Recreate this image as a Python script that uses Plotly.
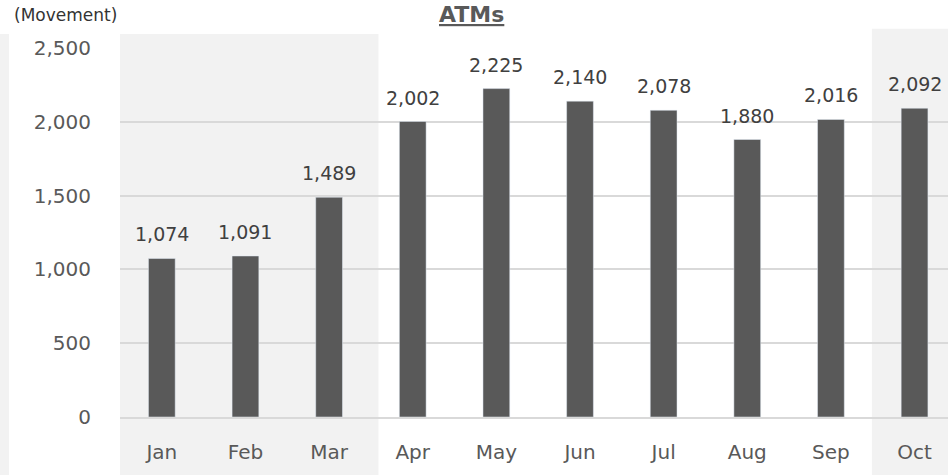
import plotly.graph_objects as go

months = ['Jan', 'Feb', 'Mar', 'Apr', 'May', 'Jun', 'Jul', 'Aug', 'Sep', 'Oct']
atms = [1074, 1091, 1489, 2002, 2225, 2140, 2078, 1880, 2016, 2092]
y_ticks = [0, 500, 1000, 1500, 2000, 2500]

FONT = 'DejaVu Sans'
BAR = '#595959'
SHADE = '#f2f2f2'

fig = go.Figure()
fig.add_bar(x=months, y=atms, marker_color=BAR, width=0.32)

# data labels above the bars
for m, v in zip(months, atms):
    fig.add_annotation(x=m, y=v, text=f'{v:,}', showarrow=False,
                       yanchor='bottom', yshift=11,
                       font=dict(family=FONT, size=19, color='#404040'))

# shaded background bands
shapes = [
    dict(type='rect', xref='paper', yref='paper', x0=-0.145, x1=-0.134,
         y0=-0.157, y1=1.038),
    dict(type='rect', xref='x', yref='paper', x0=-0.54, x1=2.59,
         y0=-0.157, y1=1.038),
    dict(type='rect', xref='x', yref='paper', x0=8.49, x1=9.6,
         y0=-0.157, y1=1.052),
]
for s in shapes:
    fig.add_shape(**s, fillcolor=SHADE, line_width=0, layer='below')

fig.add_annotation(x=0.425, y=1.09, xref='paper', yref='paper',
                   xanchor='center', yanchor='middle',
                   text='<b><u>ATMs</u></b>', showarrow=False,
                   font=dict(family=FONT, size=22, color='#595959'))
fig.add_annotation(x=-0.13, y=1.09, xref='paper', yref='paper',
                   xanchor='left', yanchor='middle',
                   text='(Movement)', showarrow=False,
                   font=dict(family=FONT, size=17, color='#333333'))

fig.update_layout(
    width=948, height=475,
    margin=dict(l=120, r=0, t=48, b=58),
    paper_bgcolor='white', plot_bgcolor='rgba(0,0,0,0)',
    showlegend=False,
    font=dict(family=FONT, color='#595959'),
    xaxis=dict(range=[-0.5, 9.4], tickfont=dict(size=20, color='#595959'),
               showgrid=False, showline=True, linecolor='#d9d9d9',
               linewidth=2, ticks='', ticklabelstandoff=16),
    yaxis=dict(range=[0, 2500], tickvals=y_ticks, tickformat=',',
               tickfont=dict(size=20, color='#595959'),
               gridcolor='#d9d9d9', gridwidth=2, zeroline=False,
               ticks='', ticklabelstandoff=28),
)

fig.write_html('out.html', config={'displayModeBar': False},
               post_script="document.body.style.margin='0';")
